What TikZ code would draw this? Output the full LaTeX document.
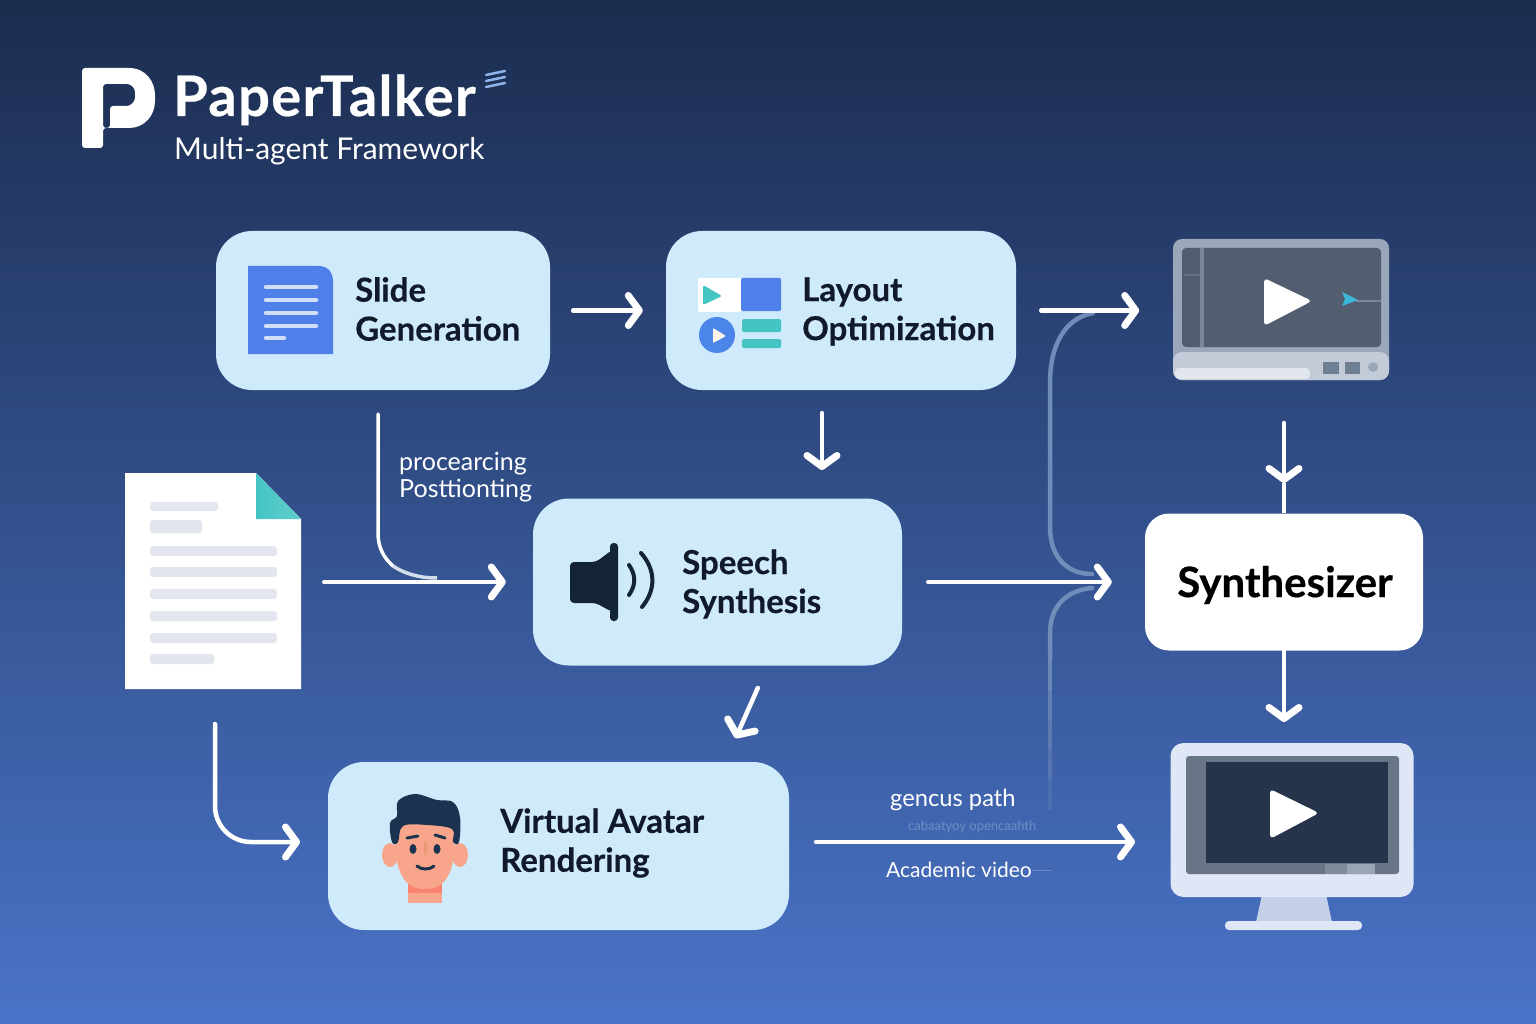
\documentclass[tikz,border=0pt]{standalone}
\usepackage{fontspec}
\setmainfont{Lato}[BoldFeatures={FakeBold=0.4}]
\usetikzlibrary{arrows.meta}
\definecolor{panelblue}{HTML}{CFEAFA}
\definecolor{inkdark}{HTML}{111A2B}
\definecolor{iconblue}{HTML}{4F7FE8}
\definecolor{iconpale}{HTML}{CFE0F8}
\definecolor{iconteal}{HTML}{45C4C4}
\definecolor{skin}{HTML}{F8A58C}
\definecolor{hairdark}{HTML}{1C3350}
\definecolor{curvefaint}{HTML}{6F8DB8}
\definecolor{bgtop}{HTML}{1B2C4E}
\definecolor{bgmid}{HTML}{2F4F8A}
\definecolor{bgbot}{HTML}{4A74C8}
\definecolor{wavemark}{HTML}{8FB4EA}
\definecolor{docgrey}{HTML}{E3E6EE}
\definecolor{frametop}{HTML}{9AA7BB}
\definecolor{framebar}{HTML}{C3CBD8}
\definecolor{framepale}{HTML}{E2E6EE}
\definecolor{screengrey}{HTML}{525D70}
\definecolor{stripgrey}{HTML}{7B8799}
\definecolor{tickblue}{HTML}{607492}
\definecolor{btngrey}{HTML}{6E7F92}
\definecolor{btnpale}{HTML}{9AA7B6}
\definecolor{cursorblue}{HTML}{3CB6D8}
\definecolor{monpale}{HTML}{DFE6F6}
\definecolor{monstand}{HTML}{C3D0E8}
\definecolor{monedge}{HTML}{687586}
\definecolor{mondark}{HTML}{25344A}
\definecolor{monstripa}{HTML}{7F8C9B}
\definecolor{monstripb}{HTML}{98A5B5}
\tikzset{
  panel/.style={fill=panelblue, rounded corners=36pt, inner sep=0pt},
  paneltext/.style={anchor=west, align=left, inner sep=0pt, text=inkdark, font=\fontsize{33}{39}\selectfont\bfseries},
  smalltext/.style={anchor=west, inner sep=0pt, text=white, font=\fontsize{25}{27}\selectfont},
  flow/.style={draw=white, line width=4.5pt, line cap=round, ->},
  faintcurve/.style={draw=curvefaint, line width=4.5pt, line cap=round},
  docline/.style={fill=docgrey, rounded corners=3pt}
}
\begin{document}
\begin{tikzpicture}[x=1pt, y=-1pt, >={Straight Barb[length=11pt, width=30pt, line width=7pt, line cap=round, line join=round]}]
\useasboundingbox (0,0) rectangle (1536,1024);
\shade[top color=bgtop, middle color=bgmid, bottom color=bgbot] (0,0) rectangle (1536,1024);
% logo
\fill[white, even odd rule, rounded corners=3pt] (82,68) -- (126,68) .. controls (146,68) and (155,82) .. (155,98) .. controls (155,116) and (144,128) .. (126,128) -- (103,128) -- (103,148) -- (82,148) -- cycle
  (103,84) -- (103,128) -- (110,128) -- (110,106) -- (124,106) .. controls (131,106) and (135,101) .. (135,95) .. controls (135,88) and (131,84) .. (124,84) -- cycle;
\node[anchor=base west, inner sep=0pt, text=white, font=\fontsize{56}{56}\selectfont\bfseries\addfontfeatures{LetterSpace=2.4}] (title) at (173,116) {PaperTalker};
\node[anchor=base west, inner sep=0pt, text=white, font=\fontsize{30}{32}\selectfont] (subtitle) at (174,160) {Multi-agent Framework};
\foreach \yy in {73,79,85}
  \draw[wavemark, line width=2.5pt, line cap=round] (486,\yy+2) -- (505,\yy-2);
% panels
\node[panel, minimum width=334pt, minimum height=159pt] (slide) at (383,310.5) {};
\node[panel, minimum width=350pt, minimum height=159pt] (layout) at (841,310.5) {};
\node[panel, minimum width=369pt, minimum height=167pt] (speech) at (717.5,582) {};
\node[panel, minimum width=461pt, minimum height=168pt] (avatar) at (558.5,846) {};
\node[fill=white, rounded corners=24pt, minimum width=278pt, minimum height=137pt, inner sep=0pt] (synth) at (1284,582) {};
\node[inner sep=0pt, text=black, font=\fontsize{42}{44}\selectfont\bfseries] (synthtext) at (1285,585) {Synthesizer};
\node[paneltext] (slidetext) at (355,309) {Slide\\Generation};
\node[paneltext] (layouttext) at (802,311.5) {Layout\\Optimization};
\node[paneltext] (speechtext) at (682,584) {Speech\\Synthesis};
\node[paneltext] (avatartext) at (500,843) {Virtual Avatar\\Rendering};
% slide icon
\fill[iconblue] (248,266) -- (318,266) .. controls (328,266) and (333,272) .. (333,282) -- (333,354) -- (248,354) -- cycle;
\foreach \yy in {287,300,313,326}
  \draw[iconpale, line width=4.5pt, line cap=round] (266,\yy) -- (316,\yy);
\draw[iconpale, line width=4.5pt, line cap=round] (266,338) -- (284,338);
% layout icon
\fill[white] (698,278) rectangle (741,312);
\fill[iconteal, rounded corners=2pt] (703,285) -- (722,296) -- (703,305) -- cycle;
\fill[iconblue, rounded corners=1.5pt] (741,278) rectangle (781,311);
\fill[iconblue!95!cyan] (717,335) circle (18);
\fill[white!92!orange, rounded corners=1pt] (713,328) -- (726,336) -- (713,343) -- cycle;
\fill[iconteal, rounded corners=1.5pt] (742,319) rectangle (781,332);
\fill[iconteal, rounded corners=1.5pt] (742,339) rectangle (781,348);
% speaker icon
\fill[hairdark!70!black, rounded corners=4pt] (570,562) -- (596,562) -- (612,550) -- (612,612) -- (596,603) -- (570,603) -- cycle;
\fill[hairdark!70!black, rounded corners=3.5pt] (610,543) rectangle (618,621);
\draw[hairdark!70!black, line width=4pt, line cap=round] (629,565) .. controls (636,575) and (636,585) .. (629,595);
\draw[hairdark!70!black, line width=4pt, line cap=round] (641,553) .. controls (656,570) and (656,590) .. (642,607);
% avatar icon
\fill[skin] (390,855) ellipse (8 and 12);
\fill[skin] (460,855) ellipse (8 and 12);
\fill[skin!80!red] (408,880) rectangle (442,903);
\fill[skin] (408,893) rectangle (442,903);
\fill[skin] (395,820) -- (455,820) .. controls (457,870) and (448,889) .. (425,889) .. controls (402,889) and (393,870) .. (395,820) -- cycle;
\fill[hairdark] plot[smooth cycle, tension=0.6] coordinates {(392,842) (390,823) (397,816) (398,801) (415,794) (437,800) (453,802) (460,817) (459,842) (453,842) (452,829) (427,825) (403,826) (398,842)};
\fill[hairdark] (413,849) ellipse (3.5 and 5);
\fill[hairdark] (437,849) ellipse (3.5 and 5);
\draw[hairdark, line width=3pt, line cap=round] (407,838) -- (418,836);
\draw[hairdark, line width=3pt, line cap=round] (435,835) -- (445,838);
\draw[skin!70!brown, line width=3pt, line cap=round] (425,842) -- (425,854);
\draw[hairdark, line width=3pt, line cap=round] (417,866) .. controls (421,870) and (430,870) .. (434,866);
% paper on the left
\node[minimum width=176pt, minimum height=216pt, inner sep=0pt] (paper) at (213,582) {};
\fill[white] (125,473) -- (256,473) -- (301,519) -- (301,689) -- (125,689) -- cycle;
\shade[left color=iconteal, right color=iconteal!85!white] (256,473) -- (301,519) -- (256,519) -- cycle;
\foreach \ya/\yb/\xb in {502/511/218,520/533/202,546/556/277,567/577/277,589/599/277,611/621/277,633/643/277,654/664/214}
  \fill[docline] (150,\ya) rectangle (\xb,\yb);
% top video icon
\node[fill=frametop, rounded corners=9pt, minimum width=216pt, minimum height=141pt, inner sep=0pt] (video) at (1281,309.5) {};
\fill[framebar, rounded corners=9pt] (1173,352) -- (1389,352) -- (1389,380) -- (1173,380) -- cycle;
\fill[framepale, rounded corners=4pt] (1175,368) rectangle (1310,379);
\fill[screengrey, rounded corners=4pt] (1182,248) rectangle (1381,347);
\fill[stripgrey] (1200,248) rectangle (1204,347);
\draw[tickblue, line width=1.5pt] (1184,275) -- (1200,275);
\fill[btngrey] (1323,362) rectangle (1339,374);
\fill[btngrey] (1345,362) rectangle (1360,374);
\fill[btnpale] (1373,367) circle (5);
\fill[white, rounded corners=4pt] (1264,278) -- (1312,301) -- (1264,326) -- cycle;
\draw[stripgrey, line width=1.5pt] (1356,301) -- (1381,301);
\fill[cursorblue] (1342,292) -- (1358,300) -- (1342,306) -- (1345,299) -- cycle;
% monitor
\fill[monstand] (1263,890) -- (1325,890) -- (1332,922) -- (1256,922) -- cycle;
\node[fill=monpale, rounded corners=13pt, minimum width=243pt, minimum height=154pt, inner sep=0pt] (monitor) at (1292,820) {};
\fill[monpale, rounded corners=4pt] (1225,921) rectangle (1362,930);
\fill[monedge, rounded corners=3pt] (1186,756) rectangle (1399,874);
\fill[mondark] (1206,762) rectangle (1388,863);
\fill[monstripa] (1325,864) rectangle (1347,874);
\fill[monstripb] (1347,864) rectangle (1375,874);
\fill[white, rounded corners=4pt] (1270,789) -- (1319,813) -- (1270,839) -- cycle;
% faint curves behind the arrows
\coordinate (curveatop) at (1093,313);
\coordinate (curveamid) at (1092,574);
\coordinate (curvebtop) at (1092,588);
\draw[faintcurve] (curveatop) .. controls (1065,318) and (1050,345) .. (1050,383) -- (1050,527) .. controls (1050,555) and (1065,574) .. (curveamid);
\draw[faintcurve] (curvebtop) .. controls (1068,590) and (1050,605) .. (1050,633) -- (1050,660);
\foreach \ya/\op in {660/0.9,690/0.75,720/0.6,750/0.45,780/0.25}
  \draw[curvefaint, line width=4.5pt, draw opacity=\op] (1050,\ya) -- (1050,\ya+30);
\coordinate (bendtop) at (378,414);
\coordinate (bendmid) at (393,566);
\coordinate (bendend) at (437,578);
\draw[white, line width=3.5pt, line cap=round] (bendtop) -- (378,533) .. controls (378,548) and (384,558) .. (bendmid);
\draw[white!70!curvefaint, line width=3.5pt] (bendmid) .. controls (405,574) and (420,578) .. (bendend);
% arrows
\draw[flow, shorten <=23pt, shorten >=23pt] (slide.east) -- (layout.west);
\draw[flow, shorten <=25pt] (layout.east) -- ++(123,0) coordinate (videoin);
\draw[flow, shorten <=23pt, shorten >=28pt] (822,390) -- (822,498);
\coordinate (synthin) at (1284,483);
\draw[flow, shorten <=43pt] (1284,380) -- (synthin);
\draw[white, line width=4.5pt] (synthin) -- (synth.north);
\draw[flow, shorten >=21pt] (synth.south) -- (1284,743);
\draw[flow, shorten <=26pt, shorten >=33pt] (speech.east) -- (synth.west);
\draw[flow, shorten <=23pt, shorten >=27pt] (paper.east) -- (speech.west);
\draw[flow, shorten <=35pt, shorten >=28pt, rounded corners=36pt] (215,689) -- (215,842) -- (328,842);
\draw[flow, shorten <=25pt, shorten >=26pt] (768,665) -- (725,762);
\draw[flow, shorten <=27pt, shorten >=36pt] (789,842) -- (1171,842);
% small labels
\node[smalltext] (proclabel) at (399,464) {procearcing};
\node[smalltext] (poslabel) at (399,491) {Posttionting};
\node[smalltext, font=\fontsize{23.7}{25}\selectfont] (pathlabel) at (890,800) {gencus path};
\node[smalltext, text opacity=0.25, font=\fontsize{13}{14}\selectfont] (fadelabel) at (908,827) {cabaatyoy opencaahth};
\node[smalltext, font=\fontsize{21}{25}\selectfont] (videolabel) at (886,870) {Academic video};
\draw[white, opacity=0.2, line width=1pt] (videolabel.east) -- ++(20,0);
\end{tikzpicture}
\end{document}
